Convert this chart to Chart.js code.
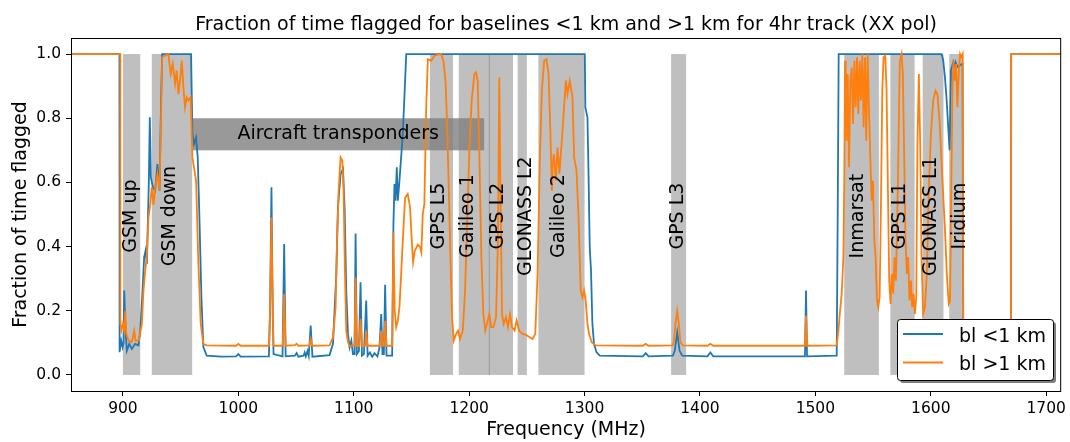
<!DOCTYPE html>
<html lang="en">
  <head>
    <meta charset="UTF-8" />
    <title>Fraction of time flagged</title>
    <script src="https://cdn.jsdelivr.net/npm/chart.js"></script>
    <style>
      html, body { margin: 0; padding: 0; background: #fff; }
      canvas { display: block; }
    </style>
  </head>
  <body>
    <canvas id="flagChart" width="1070" height="442"></canvas>
  </body>
  <script>
    // frequency axis ticks and fraction ticks
    const xTicks = [900, 1000, 1100, 1200, 1300, 1400, 1500, 1600, 1700];
    const yTicks = [0, 0.2, 0.4, 0.6, 0.8, 1.0];

    // bl <1 km
    const blueFreq = [
      855, 897, 897.1, 898.5, 899.7, 900.5, 901.1, 902.2, 903.4, 905.5, 907.7, 910.5, 913.5,
      915, 916.7, 918.4, 919.6, 920.7, 922.4, 923.3, 924.2, 925.9, 927.9, 929.9, 931.7, 933.1,
      934, 959, 960.2, 961.6, 963.4, 964.8, 966.2, 968, 969.7, 972.6, 985, 998, 1000, 1002,
      1026.5, 1027.5, 1028.7, 1029.8, 1030.5, 1038.3, 1039.7, 1041, 1049, 1050.5, 1052,
      1056.5, 1057.5, 1058.5, 1060, 1061, 1062.7, 1064.2, 1079, 1082, 1084.9, 1086.3, 1088.6,
      1090.7, 1092.1, 1093.5, 1095, 1096.4, 1097.9, 1099.3, 1100.7, 1101.6, 1102.7, 1104.5,
      1105.9, 1107.1, 1108.8, 1110.8, 1112, 1114, 1116, 1118, 1120.5, 1122.3, 1123.8, 1124.9,
      1126.1, 1127.2, 1128.4, 1133.3, 1134.4, 1135.3, 1136.2, 1137.3, 1138.2, 1139.6, 1142.5,
      1145.5, 1300.2, 1300.7, 1302.5, 1303.3, 1304.5, 1305.6, 1306.8, 1308.2, 1310.3, 1313.1,
      1350.5, 1353, 1355.5, 1376.5, 1378.2, 1380.3, 1382.3, 1384.6, 1406.5, 1409, 1411.5,
      1491, 1491.9, 1492.8, 1518.5, 1519.4, 1520.2, 1609.4, 1610.8, 1612.3, 1613.7, 1615,
      1616.3, 1617.5, 1619.5, 1620.5, 1621.5, 1623, 1627.5, 1628.2, 1629, 1669.5, 1669.7, 1713
    ];
    const blueVal = [
      1.0, 1.0, 0.071, 0.107, 0.087, 0.1, 0.263, 0.138, 0.076, 0.097, 0.081, 0.097, 0.092,
      0.138, 0.242, 0.367, 0.387, 0.346, 0.595, 0.803, 0.616, 0.585, 0.574, 0.657, 0.574, 0.865,
      1.0, 1.0, 0.751, 0.72, 0.74, 0.678, 0.502, 0.242, 0.087, 0.06, 0.057, 0.058, 0.065, 0.057,
      0.058, 0.2, 0.585, 0.2, 0.065, 0.058, 0.408, 0.058, 0.06, 0.068, 0.057,
      0.06, 0.07, 0.058, 0.075, 0.06, 0.154, 0.057, 0.062, 0.097, 0.315, 0.522, 0.626,
      0.642, 0.522, 0.263, 0.128, 0.086, 0.107, 0.065, 0.065, 0.441, 0.065, 0.075,
      0.289, 0.06, 0.065, 0.232, 0.06, 0.07, 0.057, 0.068, 0.058, 0.085, 0.19, 0.065,
      0.065, 0.281, 0.06, 0.06, 0.47, 0.595, 0.543, 0.647, 0.543, 0.605, 0.75,
      1.0, 1.0, 0.834, 0.803, 0.657, 0.398, 0.325, 0.159, 0.097, 0.071, 0.06,
      0.058, 0.068, 0.058, 0.06, 0.076, 0.133, 0.076, 0.06, 0.058, 0.07, 0.058,
      0.058, 0.263, 0.058, 0.06, 0.52, 1.0, 1.0, 0.98, 0.927, 0.86, 0.78,
      0.7, 0.95, 0.975, 0.96, 0.975, 0.96, 0.97, 0.06, null, 0.06, 1.0, 1.0
    ];

    // bl >1 km
    const orangeFreq = [
      855, 897.7, 897.8, 898.6, 900, 901.1, 902, 902.9, 904.9, 907.7, 909.8, 910.9, 913.8,
      916.4, 917.8, 919.3, 920.7, 922.1, 923.6, 925, 926.5, 927.9, 929.9, 931.7, 932.8, 934,
      936.6, 939.4, 941.4, 943.2, 945.2, 946.6, 948.1, 949.5, 951, 952.4, 953.8, 955.3, 956.7,
      958.7, 960.2, 961.6, 963.4, 965.4, 967.4, 969.7, 972.6, 998, 1000, 1002, 1026.5, 1027.5,
      1028.7, 1029.8, 1030.5, 1038.5, 1039.7, 1041, 1049, 1050.5, 1052, 1061.5, 1062.7, 1064,
      1079, 1082, 1084.3, 1085.5, 1086.9, 1088.6, 1090.1, 1091.2, 1092.4, 1093.5, 1095, 1096.4,
      1100.7, 1101.6, 1102.7, 1104.8, 1105.9, 1107.1, 1109.8, 1110.8, 1112, 1122.5, 1123.8,
      1124.9, 1126.1, 1127.2, 1128.4, 1133.3, 1134.4, 1135.5, 1136.8, 1138.2, 1139.6, 1141.1,
      1142.5, 1144.5, 1146.8, 1148.8, 1150.3, 1151.4, 1152.9, 1155.5, 1157.5, 1158.6, 1159.8,
      1161.2, 1162.8, 1164.2, 1167.1, 1170, 1172.8, 1175.7, 1177.7, 1179.5, 1180.9, 1182.4,
      1183.8, 1185.2, 1186.7, 1188.7, 1190.4, 1192.1, 1194.5, 1196.5, 1198.2, 1200.2, 1202.2,
      1204.5, 1206, 1207.4, 1208.9, 1210.6, 1212.3, 1214, 1216.1, 1217.5, 1219.2, 1221, 1223.3,
      1225, 1226.1, 1227.3, 1228.5, 1229.9, 1231.9, 1233.6, 1235.4, 1237.1, 1239.4, 1241.1,
      1243.4, 1246.3, 1249.2, 1252.1, 1255, 1257.3, 1259.3, 1261.3, 1263, 1265, 1267, 1268.8,
      1270.2, 1271.7, 1272.4, 1273.4, 1275.1, 1276.6, 1278.2, 1280.9, 1283.8, 1285.2, 1287.2,
      1289.5, 1291, 1293, 1294.7, 1296.7, 1298.2, 1299.6, 1301, 1302.5, 1303.9, 1306.2, 1309.7,
      1350.5, 1353, 1355.5, 1376.5, 1377.4, 1378.8, 1380.3, 1381.7, 1383.1, 1385.2, 1406.5,
      1409, 1411.5, 1491, 1491.9, 1492.8, 1518.5, 1520, 1521.4, 1522.8, 1524.3, 1525.1, 1525.7,
      1526.3, 1527.1, 1528, 1529.2, 1530.3, 1531.5, 1532.6, 1533.8, 1534.9, 1536.1, 1537.2,
      1538.4, 1539.5, 1540.7, 1541.8, 1543, 1544.1, 1545.3, 1546.4, 1547.6, 1548.8, 1549.9,
      1551.1, 1552.2, 1553.4, 1554.5, 1555.7, 1556.8, 1558, 1559.1, 1560.6, 1561.7, 1562.9,
      1564, 1565.2, 1566.3, 1567.5, 1568.6, 1569.8, 1570.9, 1572.1, 1573.2, 1574.7, 1575.8,
      1577, 1578.1, 1579.3, 1580.4, 1581.6, 1582.8, 1583.9, 1585.1, 1586.2, 1587.4, 1588.5,
      1589.7, 1590.8, 1592, 1593.4, 1594.9, 1596.6, 1598.3, 1600.1, 1602.1, 1604.1, 1605.8,
      1607.8, 1609.8, 1612.1, 1613.9, 1615.6, 1616.7, 1617.9, 1618.8, 1619.6, 1620.8, 1621.9,
      1623.1, 1624.2, 1625.4, 1626.5, 1627.7, 1628.2, 1629, 1669.5, 1669.7, 1713
    ];
    const orangeVal = [
      1.0, 1.0, 0.159, 0.138, 0.159, 0.138, 0.2, 0.128, 0.107, 0.102, 0.138, 0.107, 0.107,
      0.159, 0.263, 0.325, 0.367, 0.49, 0.53, 0.585, 0.53, 0.585, 0.626, 0.574, 0.761, 0.99,
      0.995, 1.0, 0.938, 0.969, 0.907, 0.948, 0.875, 0.917, 0.98, 0.896, 0.834, 0.865, 0.855,
      0.865, 0.678, 0.647, 0.605, 0.346, 0.159, 0.097, 0.092, 0.091, 0.097, 0.091, 0.091, 0.2,
      0.491, 0.2, 0.091, 0.091, 0.252, 0.091, 0.093, 0.097, 0.091, 0.092, 0.112, 0.091,
      0.092, 0.117, 0.211, 0.418, 0.574, 0.678, 0.668, 0.574, 0.315, 0.138, 0.102, 0.091,
      0.091, 0.304, 0.091, 0.091, 0.175, 0.091, 0.091, 0.138, 0.091, 0.091, 0.138,
      0.091, 0.091, 0.169, 0.091, 0.091, 0.444, 0.2, 0.149, 0.169, 0.211, 0.315,
      0.418, 0.553, 0.564, 0.522, 0.418, 0.351, 0.387, 0.406, 0.398, 0.382, 0.501,
      0.533, 0.834, 0.984, 0.979, 0.995, 0.998, 1.0, 0.979, 0.917, 0.782, 0.574,
      0.367, 0.18, 0.107, 0.128, 0.138, 0.112, 0.138, 0.263, 0.47, 0.699, 0.855,
      0.938, 0.943, 0.917, 0.678, 0.367, 0.19, 0.138, 0.17, 0.19, 0.149, 0.149, 0.18,
      0.419, 0.927, 0.522, 0.19, 0.159, 0.18, 0.149, 0.19, 0.149, 0.138, 0.17,
      0.138, 0.128, 0.125, 0.118, 0.112, 0.128, 0.315, 0.678, 0.886, 0.979, 0.984, 0.938,
      0.782, 0.574, 0.657, 0.688, 0.605, 0.709, 0.627, 0.761, 0.917, 0.875, 0.917,
      0.865, 0.678, 0.637, 0.502, 0.263, 0.242, 0.263, 0.232, 0.159, 0.128, 0.102, 0.092,
      0.091, 0.097, 0.091, 0.092, 0.107, 0.159, 0.2, 0.159, 0.102, 0.092, 0.091,
      0.097, 0.091, 0.091, 0.185, 0.091, 0.092, 0.138, 0.2, 0.253, 0.367, 0.626, 0.979,
      0.958, 0.73, 0.938, 0.647, 0.917, 0.958, 0.782, 0.979, 0.834, 0.99, 0.813,
      0.979, 0.855, 1.0, 0.772, 0.99, 0.73, 1.0, 0.834, 0.678, 0.543, 0.605,
      0.419, 0.367, 0.232, 0.211, 0.242, 0.522, 0.886, 0.99, 0.995, 0.886, 0.574,
      0.294, 0.221, 0.315, 0.253, 0.367, 0.294, 0.47, 0.73, 0.979, 1.0, 0.938,
      0.678, 0.419, 0.315, 0.367, 0.232, 0.294, 0.211, 0.253, 0.19, 0.24, 0.73,
      0.938, 0.73, 0.367, 0.19, 0.211, 0.315, 0.574, 0.751, 0.855, 0.886, 0.875,
      0.782, 0.626, 0.47, 0.315, 0.221, 0.23, 0.626, 0.886, 0.979, 0.917, 0.969,
      0.834, 0.938, 1.0, 0.99, 1.0, 0.09, null, 0.09, 1.0, 1.0
    ];

    // shaded bands (MHz) and where their names sit
    const bandName = ["GSM up", "GSM down", "GPS L5", "Galileo 1", "GPS L2", "GLONASS L2",
      "Galileo 2", "GPS L3", "Inmarsat", "GPS L1", "GLONASS L1", "Iridium"];
    const bandStart = [900, 925, 1166, 1191, 1217, 1242, 1260, 1375, 1525, 1565, 1593, 1616];
    const bandEnd = [915, 960, 1186, 1218, 1238, 1250, 1300, 1388, 1555, 1586, 1611, 1627];
    const labelFreq = [907, 941, 1174, 1199, 1225, 1249, 1277.5, 1381, 1537, 1573.5, 1600.5, 1625];
    const aircraftRange = [960, 1213];
    const aircraftFrac = [0.7, 0.8];

    const FONT = "DejaVu Sans";

    const toPoints = (f, v) => f.map((x, i) => ({ x: x, y: v[i] }));

    const decor = {
      id: "decor",
      beforeDatasetsDraw(chart) {
        const { ctx, scales: { x, y } } = chart;
        ctx.save();
        ctx.fillStyle = "rgba(128,128,128,0.5)";
        const y0 = y.getPixelForValue(1);
        const y1 = y.getPixelForValue(0);
        bandStart.forEach((s, i) => {
          const x0 = x.getPixelForValue(s);
          const x1 = x.getPixelForValue(bandEnd[i]);
          ctx.fillRect(x0, y0, x1 - x0, y1 - y0);
        });
        // aircraft transponders
        ctx.fillStyle = "rgba(128,128,128,0.8)";
        const ax0 = x.getPixelForValue(aircraftRange[0]);
        const ax1 = x.getPixelForValue(aircraftRange[1]);
        const ay0 = y.getPixelForValue(aircraftFrac[1]);
        const ay1 = y.getPixelForValue(aircraftFrac[0]);
        ctx.fillRect(ax0, ay0, ax1 - ax0, ay1 - ay0);
        ctx.restore();
      },
      afterDatasetsDraw(chart) {
        const { ctx, scales: { x, y } } = chart;
        ctx.save();
        ctx.fillStyle = "#000";
        ctx.font = "19px '" + FONT + "'";
        ctx.textAlign = "center";
        ctx.textBaseline = "middle";
        ctx.fillText("Aircraft transponders",
          x.getPixelForValue((aircraftRange[0] + aircraftRange[1]) / 2),
          y.getPixelForValue((aircraftFrac[0] + aircraftFrac[1]) / 2));
        bandName.forEach((name, i) => {
          ctx.save();
          ctx.translate(x.getPixelForValue(labelFreq[i]), y.getPixelForValue(0.495));
          ctx.rotate(-Math.PI / 2);
          ctx.fillText(name, 0, 0);
          ctx.restore();
        });
        ctx.restore();
      },
      afterDraw(chart) {
        const { ctx, chartArea: a } = chart;
        ctx.save();
        // frame
        ctx.strokeStyle = "#000";
        ctx.lineWidth = 1;
        ctx.strokeRect(a.left + 0.5, a.top + 0.5, a.right - a.left - 1, a.bottom - a.top);

        ctx.fillStyle = "#000";
        ctx.font = "19px '" + FONT + "'";
        ctx.textAlign = "center";
        ctx.textBaseline = "alphabetic";
        ctx.fillText("Fraction of time flagged for baselines <1 km and >1 km for 4hr track (XX pol)",
          (a.left + a.right) / 2, 30);
        ctx.fillText("Frequency (MHz)", (a.left + a.right) / 2, 435);
        ctx.save();
        ctx.translate(26, (a.top + a.bottom) / 2);
        ctx.rotate(-Math.PI / 2);
        ctx.fillText("Fraction of time flagged", 0, 0);
        ctx.restore();

        // legend box with shadow
        const lx = 897, ly = 319, lw = 156, lh = 61;
        ctx.fillStyle = "rgba(0,0,0,0.5)";
        ctx.beginPath();
        ctx.roundRect(lx + 3, ly + 3, lw, lh, 3);
        ctx.fill();
        ctx.fillStyle = "#fff";
        ctx.strokeStyle = "#000";
        ctx.beginPath();
        ctx.roundRect(lx + 0.5, ly + 0.5, lw, lh, 3);
        ctx.fill();
        ctx.stroke();
        const ds = chart.data.datasets;
        [ds[1], ds[0]].forEach((d, i) => {
          const yy = 334 + i * 28.5;
          ctx.strokeStyle = d.borderColor;
          ctx.lineWidth = 1.8;
          ctx.beginPath();
          ctx.moveTo(903, yy);
          ctx.lineTo(943, yy);
          ctx.stroke();
          ctx.fillStyle = "#000";
          ctx.textAlign = "left";
          ctx.fillText(d.label, 959, yy + 7.5);
        });
        ctx.restore();
      },
    };

    new Chart(document.getElementById("flagChart"), {
      type: "line",
      data: {
        datasets: [
          {
            label: "bl >1 km",
            data: toPoints(orangeFreq, orangeVal),
            borderColor: "#ff7f0e",
            borderWidth: 1.8,
            pointRadius: 0,
            order: 0,
          },
          {
            label: "bl <1 km",
            data: toPoints(blueFreq, blueVal),
            borderColor: "#1f77b4",
            borderWidth: 1.8,
            pointRadius: 0,
            order: 1,
          },
        ],
      },
      options: {
        responsive: false,
        animation: false,
        devicePixelRatio: 1,
        layout: { padding: { top: 38, right: 7, left: 0, bottom: 0 } },
        plugins: { legend: { display: false }, tooltip: { enabled: false }, title: { display: false } },
        elements: { line: { tension: 0 } },
        scales: {
          x: {
            type: "linear",
            min: 855,
            max: 1713,
            afterBuildTicks: (s) => { s.ticks = xTicks.map((v) => ({ value: v })); },
            afterFit: (s) => { s.height = 51; },
            ticks: {
              color: "#000",
              font: { family: FONT, size: 15.5 },
              padding: 4,
              maxRotation: 0,
              autoSkip: false,
              callback: (v) => String(v),
            },
            grid: { drawOnChartArea: false, drawTicks: true, tickLength: 5, tickColor: "#000" },
            border: { display: false },
          },
          y: {
            min: -0.05,
            max: 1.05,
            afterBuildTicks: (s) => { s.ticks = yTicks.map((v) => ({ value: v })); },
            afterFit: (s) => { s.width = 71; },
            ticks: {
              color: "#000",
              font: { family: FONT, size: 15.5 },
              padding: 5,
              callback: (v) => v.toFixed(1),
            },
            grid: { drawOnChartArea: false, drawTicks: true, tickLength: 5, tickColor: "#000" },
            border: { display: false },
          },
        },
      },
      plugins: [decor],
    });
  </script>
</html>
